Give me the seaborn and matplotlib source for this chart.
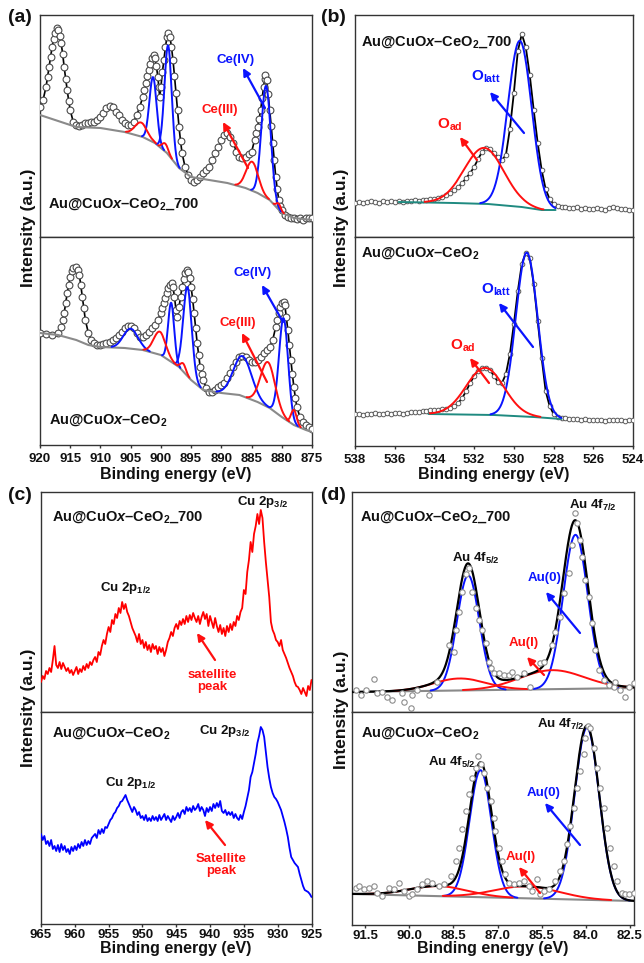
import numpy as np
import matplotlib
matplotlib.use('Agg')
import matplotlib.pyplot as plt
from matplotlib.patches import FancyArrowPatch
from matplotlib.transforms import IdentityTransform
import seaborn as sns

# ---------------- DATA ----------------
# (a) Ce 3d, Au@CuOx-CeO2_700
ce700_E = [920, 919.5, 919, 918.5, 918, 917.5, 917.2, 917, 916.5, 916, 915.5, 915, 914.5, 914, 913.5, 913, 912.5, 912,
           911.5, 911, 910.5, 910, 909.5, 909, 908.5, 908, 907.5, 907, 906.5, 906, 905.5, 905, 904.5, 904, 903.5, 903,
           902.5, 902, 901.5, 901.2, 901, 900.5, 900.2, 900, 899.5, 899, 898.8, 898.5, 898, 897.5, 897, 896.5, 896,
           895.5, 895, 894.5, 894, 893.5, 893, 892.5, 892, 891.5, 891, 890.5, 890, 889.5, 889, 888.5, 888, 887.5, 887,
           886.5, 886, 885.5, 885, 884.5, 884, 883.5, 883, 882.7, 882.5, 882, 881.5, 881, 880.5, 880, 879.5, 879,
           878.5, 878, 877.5, 877, 876.5, 876, 875.5, 875]
ce700_I = [130, 137, 150, 170, 190, 204, 209, 207, 194, 170, 147, 127, 115, 112, 111, 112, 114, 114,
           115, 115, 117, 120, 124, 129, 131, 130, 125, 122, 117, 114, 112, 112, 115, 122, 130, 140,
           154, 167, 179, 182, 179, 160, 140, 150, 177, 200, 204, 200, 177, 144, 110, 84, 70,
           62, 57, 55, 57, 60, 64, 67, 70, 77, 84, 90, 97, 102, 104, 100, 94, 85, 80,
           79, 80, 83, 85, 97, 110, 127, 150, 162, 157, 127, 94, 60, 37, 27, 22, 20,
           19, 19, 18, 19, 17, 19, 19, 19]
# extra readings on the steep flanks
ce700_E2 = [918.75, 918.25, 917.75, 916.75, 916.25, 915.75, 915.25, 902.75, 902.25, 901.75, 900.75, 900.35,
            899.75, 899.25, 898.25, 897.75, 897.25, 896.75, 884.25, 883.75, 883.25, 882.85, 882.25, 881.75,
            881.25, 880.75, 880.25]
ce700_I2 = [160, 180, 198, 201, 183, 158, 136, 147, 161, 173, 171, 150,
            165, 190, 190, 161, 127, 96, 104, 118, 139, 158, 143, 111,
            77, 48, 31]
ce700_bg_E = [920, 914, 910, 906, 903, 901, 899, 897, 895, 892, 889, 886, 884, 882, 880, 878, 875]
ce700_bg_I = [122, 110, 109, 105, 100, 94, 84, 69, 60, 57, 54, 49, 44, 37, 24, 19, 17]
ce700_pk_E = [901.3, 898.8, 882.6, 903.3, 899.3, 884.9, 880.5]
ce700_pk_H = [65, 109, 112, 14, 8, 29, 6]
ce700_pk_W = [0.6, 0.6, 0.77, 1.0, 0.5, 1.0, 0.4]
ce700_pk_state = ['IV', 'IV', 'IV', 'III', 'III', 'III', 'III']

# (a) Ce 3d, Au@CuOx-CeO2
ce_E = [920, 919, 918, 917, 916.5, 916, 915.5, 915, 914.5, 914, 913.5, 913, 912.5, 912, 911.5, 911, 910.5, 910,
        909.5, 909, 908.5, 908, 907.5, 907, 906.5, 906, 905.5, 905, 904.5, 904, 903.5, 903, 902.5, 902, 901.5, 901,
        900.5, 900, 899.5, 899, 898.5, 898.2, 898, 897.5, 897.3, 897, 896.5, 896, 895.7, 895.5, 895, 894.5, 894,
        893.5, 893, 892.5, 892, 891.5, 891, 890.5, 890, 889.5, 889, 888.5, 888, 887.5, 887, 886.5, 886, 885.5,
        885, 884.5, 884, 883.5, 883, 882.5, 882, 881.5, 881, 880.5, 880, 879.7, 879.5, 879, 878.5, 878, 877.5,
        877, 876.5, 876, 875.5, 875]
ce_I = [112, 111, 110, 112, 118, 132, 152, 168, 177, 178, 170, 148, 125, 112, 105, 102, 100, 100,
        101, 102, 103, 105, 107, 110, 113, 117, 119, 119, 117, 112, 108, 108, 110, 113, 117, 120,
        125, 132, 142, 152, 160, 162, 158, 135, 128, 138, 158, 172, 175, 173, 158, 132, 102,
        78, 65, 57, 53, 53, 55, 58, 60, 62, 67, 72, 78, 83, 88, 89, 88, 85,
        83, 83, 85, 88, 92, 95, 98, 105, 118, 132, 142, 143, 140, 115, 85, 58, 38,
        28, 23, 20, 18, 16]
ce_E2 = [916.25, 915.75, 915.25, 914.75, 913.75, 913.25, 912.75, 899.75, 899.25, 898.75, 897.75, 896.75,
         896.25, 895.25, 894.75, 894.25, 893.75, 893.25, 880.75, 880.25, 879.25, 878.75, 878.25, 877.75]
ce_I2 = [125, 142, 160, 174, 175, 160, 137, 137, 147, 157, 148, 148,
         166, 167, 146, 117, 90, 71, 125, 138, 128, 100, 71, 47]
ce_bg_E = [920, 917, 914, 912, 910, 906, 903, 900, 897, 895, 893, 890, 887, 884, 882, 880, 878, 876, 875]
ce_bg_I = [112, 110, 105, 100, 98, 97, 95, 90, 78, 65, 55, 52, 50, 43, 37, 28, 20, 15, 13]
ce_pk_E = [905.0, 898.3, 895.6, 886.5, 879.7, 900.2, 896.3, 882.3, 878.0]
ce_pk_H = [20, 59, 89, 40, 100, 23, 8, 45, 15]
ce_pk_W = [1.2, 0.5, 0.7, 1.5, 0.75, 1.0, 0.45, 1.2, 0.45]
ce_pk_state = ['IV', 'IV', 'IV', 'IV', 'IV', 'III', 'III', 'III', 'III']

# (b) O 1s (0.2 eV grid from 538 to 524)
o_grid = (538.0, 524.0, 71)
o700_I = [34, 35, 34, 35, 36, 35, 34, 36, 35, 36,
          35, 36, 35, 36, 36, 37, 36, 37, 37, 38,
          38, 39, 40, 42, 44, 47, 50, 54, 59, 64,
          70, 78, 85, 89, 88, 84, 80, 77, 82, 108,
          144, 186, 203, 190, 162, 127, 94, 67, 48, 38,
          33, 31, 30, 30, 29, 29, 30, 28, 29, 28,
          28, 29, 28, 27, 29, 30, 29, 28, 28, 27,
          27]
o_I = [32, 32, 31, 32, 32, 33, 32, 32, 33, 32,
       33, 33, 32, 33, 34, 34, 34, 35, 35, 36,
       36, 36, 37, 37, 38, 40, 43, 48, 55, 63,
       70, 75, 78, 78, 76, 70, 64, 63, 72, 92,
       122, 155, 182, 193, 188, 162, 125, 88, 55, 40,
       32, 29, 28, 28, 27, 27, 27, 26, 27, 26,
       26, 26, 26, 25, 26, 26, 26, 26, 25, 26,
       26]
o700_bg_E = [535.8, 533.0, 531.3, 529.6, 528.6, 527.9]
o700_bg_I = [35, 34, 33, 30, 27, 27]
o_bg_E = [534.3, 531.0, 529.0, 527.6]
o_bg_I = [32, 31, 29, 27]
o700_pk_E = [529.7, 531.5]
o700_pk_H = [166, 56]
o700_pk_W = [0.6, 1.0]
o_pk_E = [529.35, 531.45]
o_pk_H = [164, 47]
o_pk_W = [0.55, 0.95]
o_pk_state = ['latt', 'ad']

# (c) Cu 2p (0.25 eV grid from 965 to 925)
cu_grid = (965.0, 925.0, 161)
cu700_I = [30, 36, 33, 41, 38, 44, 40, 52, 66, 47, 44, 50, 43, 49, 45, 41, 44, 39, 42, 37,
           41, 45, 38, 43, 40, 46, 42, 48, 44, 50, 47, 52, 55, 50, 60, 57, 66, 72, 68, 78,
           85, 80, 92, 88, 98, 94, 104, 99, 110, 103, 108, 100, 96, 90, 84, 80, 76, 70, 78, 68,
           72, 64, 70, 62, 67, 60, 68, 63, 66, 58, 65, 60, 64, 56, 62, 70, 74, 80, 76, 84,
           88, 83, 91, 87, 93, 88, 96, 90, 97, 92, 99, 94, 90, 96, 88, 95, 100, 93, 98, 86,
           96, 90, 84, 94, 86, 80, 87, 78, 84, 76, 86, 80, 88, 82, 90, 86, 96, 92, 100, 104,
           122, 118, 140, 152, 170, 160, 178, 186, 198, 188, 202, 194, 170, 150, 132, 115, 90, 82, 78, 72,
           70, 66, 72, 62, 58, 54, 49, 44, 40, 36, 30, 26, 25, 22, 18, 24, 20, 16, 26, 22,
           32]
cu_I = [90, 84, 88, 80, 83, 78, 84, 75, 78, 73, 79, 72, 80, 74, 78, 72, 75, 70, 77, 73,
        78, 74, 80, 76, 82, 78, 84, 79, 83, 80, 86, 88, 90, 86, 94, 90, 95, 91, 97, 96,
        100, 104, 106, 110, 112, 116, 118, 122, 123, 126, 129, 124, 120, 116, 112, 117, 114, 109, 112, 106,
        108, 104, 109, 103, 106, 103, 108, 104, 107, 103, 109, 104, 107, 110, 104, 108, 105, 102, 108, 104,
        107, 111, 106, 112, 114, 110, 117, 113, 116, 112, 118, 114, 116, 120, 113, 117, 114, 108, 116, 112,
        117, 113, 120, 116, 121, 117, 123, 113, 111, 114, 109, 112, 109, 112, 106, 110, 106, 104, 109, 105,
        112, 118, 126, 134, 147, 152, 161, 170, 181, 188, 197, 194, 187, 172, 157, 146, 137, 131, 127, 125,
        122, 118, 114, 108, 102, 95, 87, 76, 67, 64, 61, 59, 57, 50, 44, 38, 34, 33, 32, 30,
        27]

# (d) Au 4f
au700_E = [91.83, 91.66, 91.49, 91.21, 91.09, 90.92, 90.75, 90.58, 90.24, 90.19, 89.96, 89.90, 89.73, 89.34,
           89.05, 88.66, 88.49, 88.43, 88.32, 88.20, 88.07, 87.98, 87.86, 87.75, 87.64, 87.53, 87.41, 87.30,
           87.24, 87.13, 86.96, 86.79, 86.62, 86.51, 86.34, 86.11, 85.88, 85.54, 85.43, 85.15, 85.03, 84.86,
           84.75, 84.58, 84.47, 84.35, 84.30, 84.18, 84.13, 84.01, 83.90, 83.79, 83.67, 83.56, 83.39, 83.22,
           83.05, 82.99, 82.83, 82.66, 82.54, 82.37]
au700_I = [22, 17, 22, 33, 19, 20, 15, 12, 19, 10, 4, 17, 22, 17,
           30, 67, 60, 82, 100, 120, 138, 144, 120, 104, 92, 82, 69, 50,
           44, 39, 39, 37, 37, 40, 35, 39, 25, 49, 50, 67, 80, 95,
           119, 139, 167, 199, 189, 172, 155, 132, 115, 89, 62, 42, 32, 27,
           25, 30, 22, 15, 25, 29]
au_E = [91.83, 91.72, 91.55, 91.38, 91.21, 91.09, 90.92, 90.70, 90.53, 90.36, 90.19, 90.02, 89.90, 89.73,
        89.56, 89.39, 89.22, 88.99, 88.83, 88.60, 88.43, 88.32, 88.20, 88.09, 87.98, 87.86, 87.75, 87.66,
        87.58, 87.47, 87.36, 87.24, 87.13, 87.07, 86.96, 86.85, 86.73, 86.62, 86.45, 86.28, 86.11, 85.94,
        85.83, 85.66, 85.54, 85.43, 85.26, 85.03, 84.86, 84.75, 84.64, 84.52, 84.41, 84.30, 84.18, 84.07,
        84.01, 83.93, 83.84, 83.73, 83.62, 83.50, 83.39, 83.28, 83.17, 83.05, 82.94, 82.77, 82.66, 82.54, 82.37]
au_I = [37, 39, 36, 37, 39, 32, 29, 37, 36, 42, 34, 29, 31, 36,
        41, 44, 42, 39, 41, 49, 64, 77, 96, 114, 131, 147, 157, 169,
        161, 152, 137, 124, 107, 94, 77, 64, 51, 42, 41, 42, 44, 39,
        34, 46, 31, 34, 36, 44, 54, 64, 81, 99, 117, 137, 154, 171,
        187, 199, 197, 177, 157, 137, 117, 97, 77, 59, 44, 32, 31, 31, 32]
au700_bg_E = [91.95, 82.36]
au700_bg_I = [20, 24]
au_bg_E = [91.95, 82.36]
au_bg_I = [31, 24]
au700_pk_E = [88.0, 84.35, 88.3, 85.15]
au700_pk_H = [115, 154, 12, 19]
au700_pk_W = [0.38, 0.42, 0.9, 1.1]
au_pk_E = [87.58, 83.96, 89.0, 86.0]
au_pk_H = [127, 172, 10, 12]
au_pk_W = [0.37, 0.42, 1.0, 1.1]
au_pk_state = ['0', '0', 'I', 'I']

ce_ticks = [920, 915, 910, 905, 900, 895, 890, 885, 880, 875]
o_ticks = [538, 536, 534, 532, 530, 528, 526, 524]
cu_ticks = [965, 960, 955, 950, 945, 940, 935, 930, 925]
au_ticks = [91.5, 90.0, 88.5, 87.0, 85.5, 84.0, 82.5]

# ---------------- STYLE ----------------
sns.set_theme(style='white')
plt.rcParams['font.family'] = ['Liberation Sans', 'DejaVu Sans']
plt.rcParams['font.weight'] = 'bold'
plt.rcParams['mathtext.fontset'] = 'custom'
plt.rcParams['mathtext.rm'] = 'Liberation Sans:bold'
plt.rcParams['mathtext.it'] = 'Liberation Sans:italic:bold'
plt.rcParams['mathtext.bf'] = 'Liberation Sans:bold'
plt.rcParams['mathtext.sf'] = 'Liberation Sans:bold'

BLUE = '#0a14ff'
RED = '#ff1010'
GRAY = '#8a8a8a'
TEAL = '#1f8a80'
state_col = {'IV': BLUE, 'III': RED, 'latt': BLUE, 'ad': RED, '0': BLUE, 'I': RED}

W, H = 644, 963
fig = plt.figure(figsize=(W / 100, H / 100), dpi=100)
fig.patch.set_facecolor('white')


def add_ax(l, t, r, b, xlim, ticks=None, ticklabels=None, pad=2.0):
    ax = fig.add_axes([l / W, 1 - b / H, (r - l) / W, (b - t) / H])
    ax.set_xlim(*xlim)
    ax.set_ylim(0, b - t)
    ax.set_yticks([])
    for s in ax.spines.values():
        s.set_visible(True)
        s.set_color('#333333')
        s.set_linewidth(1.0)
    if ticks is None:
        ax.set_xticks([])
    else:
        ax.set_xticks(ticks)
        ax.set_xticklabels(ticklabels if ticklabels else [str(t) for t in ticks])
        ax.tick_params(axis='x', bottom=True, direction='out', length=2.2, width=1,
                       color='#333333', labelsize=9.5, pad=pad, labelcolor='#111111')
    ax.set_xlabel('')
    ax.set_ylabel('')
    ax.set_facecolor('white')
    return ax


def line(ax, x, y, color, lw=1.4, zo=3, **kw):
    sns.lineplot(x=np.asarray(x, float), y=np.asarray(y, float), color=color, lw=lw, ax=ax,
                 zorder=zo, estimator=None, errorbar=None, sort=False, legend=False, **kw)


def circles(ax, x, y, s=22, ec='#4a4a4a', lw=0.8, zo=3):
    sns.scatterplot(x=np.asarray(x, float), y=np.asarray(y, float), s=s, color='white',
                    edgecolor=ec, linewidth=lw, ax=ax, zorder=zo, legend=False)


def merged(E1, I1, E2, I2):
    E = np.concatenate([E1, E2]).astype(float)
    I = np.concatenate([I1, I2]).astype(float)
    o = np.argsort(-E)
    return E[o], I[o]


def gauss(x, c, h, w):
    return h * np.exp(-(x - c) ** 2 / (2 * w * w))


def components(ax, bgE, bgI, cE, cH, cW, states, zo=4, lw=1.4, thr=0.6):
    bx = np.asarray(bgE, float)
    by = np.asarray(bgI, float)
    o = np.argsort(bx)
    for c, h, w, st in zip(cE, cH, cW, states):
        x = np.linspace(c - 4.5 * w, c + 4.5 * w, 300)
        x = x[(x >= bx.min()) & (x <= bx.max())]
        g = gauss(x, c, h, w)
        m = g > thr
        base = np.interp(x, bx[o], by[o])
        line(ax, x[m], base[m] + g[m], state_col[st], lw=lw, zo=zo)


def ftxt(x, y, s, size, color='#111111', ha='left', va='center', **kw):
    fig.text(x / W, 1 - y / H, s, fontsize=size, color=color, ha=ha, va=va,
             fontweight='bold', **kw)


def arrow(x1, y1, x2, y2, color):
    p = FancyArrowPatch((x1, H - y1), (x2, H - y2), transform=IdentityTransform(),
                        arrowstyle='-|>', color=color, lw=1.6, mutation_scale=11,
                        shrinkA=0, shrinkB=0, zorder=10)
    fig.add_artist(p)


LAB700 = r'Au@CuO$x$–CeO$_2$_700'
LAB = r'Au@CuO$x$–CeO$_2$'

# ---------------- (a) ----------------
ax = add_ax(40, 15, 312, 237, (920, 875))
E, I = merged(ce700_E, ce700_I, ce700_E2, ce700_I2)
line(ax, E, I, 'black', lw=1.2, zo=2)
circles(ax, E, I, s=24)
line(ax, ce700_bg_E, ce700_bg_I, GRAY, lw=1.5, zo=4)
components(ax, ce700_bg_E, ce700_bg_I, ce700_pk_E, ce700_pk_H, ce700_pk_W, ce700_pk_state)

ax = add_ax(40, 237, 312, 445, (920, 875), ce_ticks, pad=3.5)
E, I = merged(ce_E, ce_I, ce_E2, ce_I2)
line(ax, E, I, 'black', lw=1.2, zo=2)
circles(ax, E, I, s=24)
line(ax, ce_bg_E, ce_bg_I, GRAY, lw=1.5, zo=4)
components(ax, ce_bg_E, ce_bg_I, ce_pk_E, ce_pk_H, ce_pk_W, ce_pk_state)

# ---------------- (b) ----------------
o_E = np.linspace(*o_grid)
ax = add_ax(355, 15, 633, 237, (538, 524))
line(ax, o_E, o700_I, 'black', lw=1.3, zo=2)
circles(ax, o_E, o700_I, s=11, ec='#5a5a5a', lw=0.7)
line(ax, o700_bg_E, o700_bg_I, TEAL, lw=1.4, zo=4)
components(ax, o700_bg_E, o700_bg_I, o700_pk_E, o700_pk_H, o700_pk_W, o_pk_state)

ax = add_ax(355, 237, 633, 446, (538, 524), o_ticks, pad=3.5)
line(ax, o_E, o_I, 'black', lw=1.3, zo=2)
circles(ax, o_E, o_I, s=11, ec='#5a5a5a', lw=0.7)
line(ax, o_bg_E, o_bg_I, TEAL, lw=1.4, zo=4)
components(ax, o_bg_E, o_bg_I, o_pk_E, o_pk_H, o_pk_W, o_pk_state)

# ---------------- (c) ----------------
cu_E = np.linspace(*cu_grid)
ax = add_ax(41, 492, 311.5, 712, (965, 925))
line(ax, cu_E, cu700_I, '#ff0000', lw=1.3)
ax = add_ax(41, 712, 311.5, 924, (965, 925), cu_ticks, pad=1.5)
line(ax, cu_E, cu_I, '#0000ff', lw=1.3)

# ---------------- (d) ----------------
au_lbl = ['%.1f' % t for t in au_ticks]
for (l, t, r, b, E, I, bgE, bgI, pE, pH, pW, tk) in [
        (352, 492, 634, 712, au700_E, au700_I, au700_bg_E, au700_bg_I, au700_pk_E, au700_pk_H, au700_pk_W, None),
        (352, 712, 634, 925, au_E, au_I, au_bg_E, au_bg_I, au_pk_E, au_pk_H, au_pk_W, au_ticks)]:
    ax = add_ax(l, t, r, b, (91.95, 82.36), tk, au_lbl if tk else None, pad=1.5)
    xx = np.linspace(91.95, 82.36, 500)
    base = np.interp(xx, bgE[::-1], bgI[::-1])
    env = base + sum(gauss(xx, c, h, w) for c, h, w in zip(pE, pH, pW))
    line(ax, bgE, bgI, GRAY, lw=1.5, zo=2)
    components(ax, bgE, bgI, pE, pH, pW, au_pk_state, zo=3, lw=1.4, thr=0.4)
    line(ax, xx, env, 'black', lw=1.6, zo=3.5)
    circles(ax, E, I, s=15, ec='#8c8c8c', lw=0.8, zo=4)

# ---------------- TEXT ----------------
for x, y, s in [(8, 18, '(a)'), (321, 18, '(b)'), (8, 495, '(c)'), (321, 495, '(d)')]:
    ftxt(x, y, s, 14)

for x, y in [(28, 228), (342, 228), (28, 708), (342, 710)]:
    ftxt(x, y, 'Intensity (a.u.)', 12.5, ha='center', rotation=90)
for x, y in [(176, 479), (494, 479), (176, 953), (493, 953)]:
    ftxt(x, y, 'Binding energy (eV)', 11.5, ha='center', va='baseline')

SL = 10.5
ftxt(48, 204, LAB700, SL)
ftxt(49, 420, LAB, SL)
ftxt(361, 42, LAB700, SL)
ftxt(361, 253, LAB, SL)
ftxt(52, 517, LAB700, SL)
ftxt(52, 733, LAB, SL)
ftxt(360, 517, LAB700, SL)
ftxt(361, 733, LAB, SL)

# (a) annotations
ftxt(236, 60, 'Ce(IV)', 9.5, BLUE, ha='center')
ftxt(220, 110, 'Ce(III)', 9.5, RED, ha='center')
arrow(265, 108, 243, 68, BLUE)
arrow(248, 168, 223, 122, RED)
ftxt(253, 273, 'Ce(IV)', 9.5, BLUE, ha='center')
ftxt(238, 323, 'Ce(III)', 9.5, RED, ha='center')
arrow(283, 322, 262, 285, BLUE)
arrow(267, 382, 242, 333, RED)

# (b) annotations
ftxt(486, 77, r'O$_{\mathrm{latt}}$', 11, BLUE, ha='center')
ftxt(450, 125, r'O$_{\mathrm{ad}}$', 11, RED, ha='center')
arrow(524, 133, 490, 92, BLUE)
arrow(477, 160, 460, 137, RED)
ftxt(496, 290, r'O$_{\mathrm{latt}}$', 11, BLUE, ha='center')
ftxt(463, 346, r'O$_{\mathrm{ad}}$', 11, RED, ha='center')
arrow(533, 347, 499, 303, BLUE)
arrow(489, 383, 470, 358, RED)

# (c) annotations
ftxt(237, 502, r'Cu 2p$_{\mathrm{3/2}}$', 9.5)
ftxt(100, 588, r'Cu 2p$_{\mathrm{1/2}}$', 9.5)
ftxt(212, 681, 'satellite\npeak', 9.5, RED, ha='center', linespacing=1.0, multialignment='center')
arrow(215, 660, 197, 633, RED)
ftxt(199, 731, r'Cu 2p$_{\mathrm{3/2}}$', 9.5)
ftxt(105, 783, r'Cu 2p$_{\mathrm{1/2}}$', 9.5)
ftxt(221, 865, 'Satellite\npeak', 9.5, RED, ha='center', linespacing=1.0, multialignment='center')
arrow(225, 845, 205, 820, RED)

# (d) annotations
ftxt(569, 505, r'Au 4f$_{\mathrm{7/2}}$', 9.5)
ftxt(452, 558, r'Au 4f$_{\mathrm{5/2}}$', 9.5)
ftxt(545, 578, 'Au(0)', 9.5, BLUE, ha='center')
arrow(580, 633, 546, 592, BLUE)
ftxt(524, 643, 'Au(I)', 9.5, RED, ha='center')
arrow(544, 675, 527, 657, RED)
ftxt(537, 724, r'Au 4f$_{\mathrm{7/2}}$', 9.5)
ftxt(428, 762, r'Au 4f$_{\mathrm{5/2}}$', 9.5)
ftxt(544, 793, 'Au(0)', 9.5, BLUE, ha='center')
arrow(580, 845, 545, 803, BLUE)
ftxt(521, 857, 'Au(I)', 9.5, RED, ha='center')
arrow(540, 893, 519, 867, RED)

fig.savefig('out.png', dpi=100, facecolor='white')
